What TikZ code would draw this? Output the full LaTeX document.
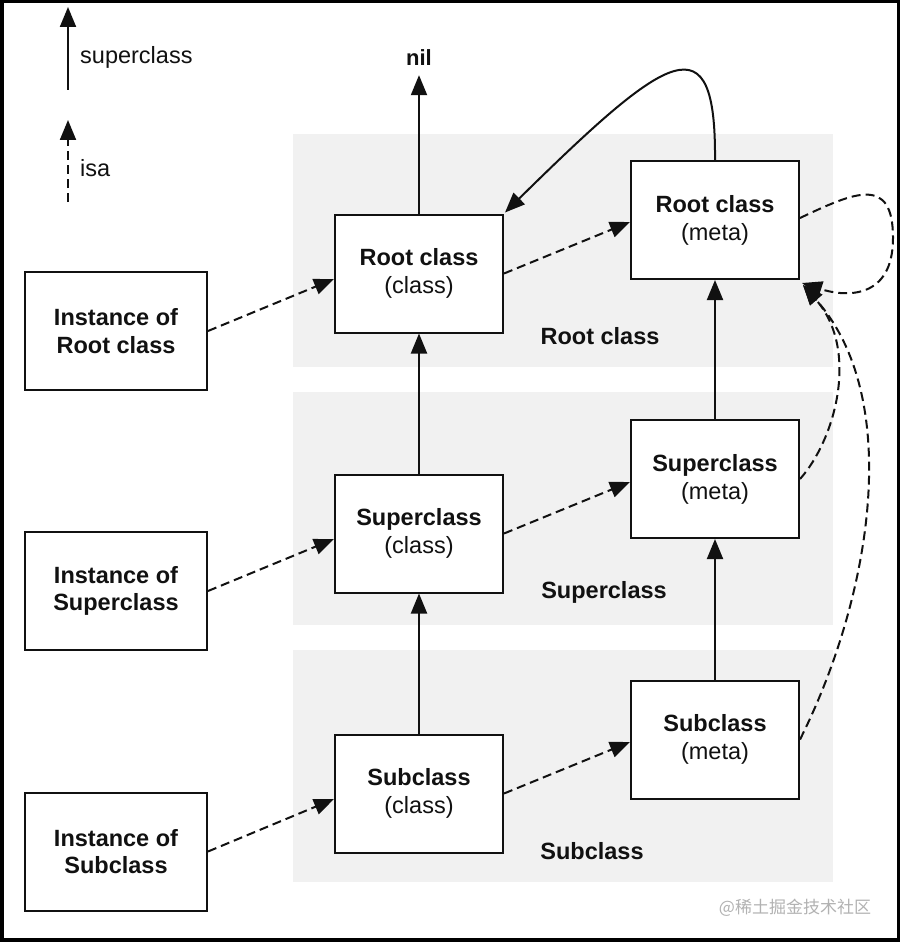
\documentclass[tikz,border=0pt]{standalone}
\usepackage{fontspec}
\setmainfont{Liberation Sans}
\newfontfamily\cjk{Noto Sans CJK SC}
\usetikzlibrary{arrows.meta}
\definecolor{band}{HTML}{F1F1F1}
\definecolor{ink}{HTML}{111111}
\tikzset{
  box/.style={draw=ink, line width=2pt, fill=white, minimum width=168pt, minimum height=118pt, inner sep=0pt, align=center, font=\fontsize{23.5}{28}\selectfont, text=ink},
  instbox/.style={box, minimum width=182pt, font=\fontsize{23.5}{27.5}\selectfont\bfseries},
  suparrow/.style={draw=ink, line width=2pt, -{Triangle[length=20pt,width=16pt]}},
  isaarrow/.style={draw=ink, line width=2pt, dash pattern=on 9pt off 5pt, -{Triangle[length=20pt,width=16pt]}},
  bandlabel/.style={font=\fontsize{23.5}{28}\selectfont\bfseries, text=ink, inner sep=0pt},
  legtext/.style={font=\fontsize{23.5}{28}\selectfont, text=ink, anchor=west, inner sep=0pt}
}
\begin{document}
\begin{tikzpicture}[x=1pt,y=-1pt]
\useasboundingbox (0,0) rectangle (900,944);
\fill[white] (0,0) rectangle (900,944);
% bands
\fill[band] (293,134) rectangle (833,367);
\fill[band] (293,392) rectangle (833,625);
\fill[band] (293,650) rectangle (833,882);
% legend
\coordinate (l1a) at (68,90);
\coordinate (l1b) at (68,7);
\coordinate (l2a) at (68,202);
\coordinate (l2b) at (68,120);
\draw[suparrow] (l1a) -- (l1b);
\draw[isaarrow] (l2a) -- (l2b);
\node[legtext] (legsup) at (80,57) {superclass};
\node[legtext] (legisa) at (80,168) {isa};
% band labels
\node[bandlabel] (b1) at (600,336) {Root class};
\node[bandlabel] (b2) at (604,592) {Superclass};
\node[bandlabel] (b3) at (592,851) {Subclass};
% instances
\node[instbox] (inst1) at (116,331) {Instance of\\Root class};
\node[instbox] (inst2) at (116,591) {Instance of\\Superclass};
\node[instbox] (inst3) at (116,851.5) {Instance of\\Subclass};
% classes
\node[box] (cls1) at (419,273.5) {\textbf{Root class}\\(class)};
\node[box] (cls2) at (419,533.5) {\textbf{Superclass}\\(class)};
\node[box] (cls3) at (419,793.5) {\textbf{Subclass}\\(class)};
% metas
\node[box] (meta1) at (715,220) {\textbf{Root class}\\(meta)};
\node[box] (meta2) at (715,479) {\textbf{Superclass}\\(meta)};
\node[box] (meta3) at (715,739.5) {\textbf{Subclass}\\(meta)};
% nil
\node[font=\fontsize{22}{26}\selectfont\bfseries, text=ink, inner sep=0pt] (nil) at (419,58) {nil};
% superclass arrows
\draw[suparrow] (cls1.north) -- ([yshift=-9pt]nil.south);
\draw[suparrow] (cls2.north) -- (cls1.south);
\draw[suparrow] (cls3.north) -- (cls2.south);
\draw[suparrow] (meta2.north) -- (meta1.south);
\draw[suparrow] (meta3.north) -- (meta2.south);
\draw[suparrow] (meta1.north) .. controls (716,20) and (670,50) .. ([shift={(1pt,1pt)}]cls1.north east);
% isa arrows
\draw[isaarrow] (inst1.east) -- ([yshift=-5.5pt]cls1.west);
\draw[isaarrow] (inst2.east) -- ([yshift=-5.5pt]cls2.west);
\draw[isaarrow] (inst3.east) -- ([yshift=-5.5pt]cls3.west);
\draw[isaarrow] ([yshift=0pt]cls1.east) -- ([yshift=-2pt]meta1.west);
\draw[isaarrow] ([yshift=0pt]cls2.east) -- ([yshift=-3pt]meta2.west);
\draw[isaarrow] ([yshift=0pt]cls3.east) -- ([yshift=-2.5pt]meta3.west);
\draw[isaarrow] ([yshift=2pt]meta1.east) .. controls (855,192) and (893,175) .. (893,238) .. controls (893,300) and (845,297) .. ([shift={(2pt,-3pt)}]meta1.south east);
\draw[isaarrow] (meta2.east) .. controls (835,440) and (860,350) .. ([shift={(3pt,-5pt)}]meta1.south east);
\draw[isaarrow] (meta3.east) .. controls (870,600) and (905,400) .. ([shift={(3pt,-5pt)}]meta1.south east);
% watermark
\node[font=\cjk\fontsize{17}{20}\selectfont, text=black!30, inner sep=0pt] (wm) at (795,908) {@稀土掘金技术社区};
% frame
\draw[black, line width=3.5pt] (1.75,1.75) rectangle (898.25,940);
\end{tikzpicture}
\end{document}
